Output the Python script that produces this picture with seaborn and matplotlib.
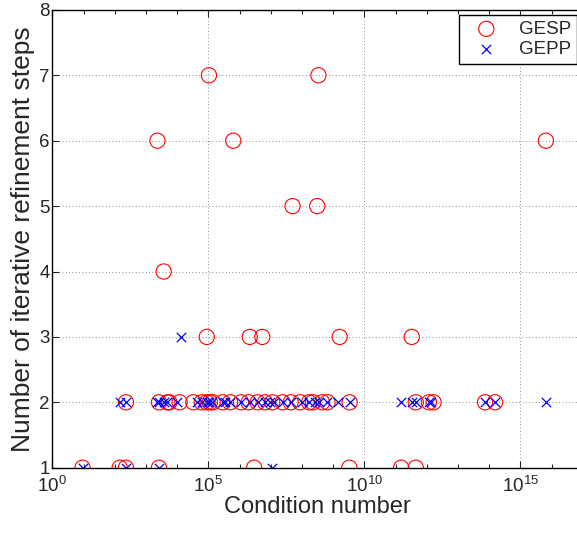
import matplotlib
matplotlib.use('Agg')
import matplotlib.pyplot as plt
import matplotlib.ticker as mticker
import numpy as np
import pandas as pd
import seaborn as sns

# ─── data (condition numbers as log10 exponents) ───
GESP_STEPS = [1] * 8 + [2] * 30 + [3] * 5 + [4] + [5] * 2 + [6] * 3 + [7] * 2
GESP_EXP = [
    # steps = 1
    0.97, 2.16, 2.36, 3.42, 6.47, 9.52, 11.18, 11.65,
    # steps = 2
    2.36, 3.42, 3.69, 3.75, 4.08, 4.52, 4.79, 4.95, 5.05, 5.14,
    5.46, 5.70, 6.05, 6.29, 6.58, 6.82, 7.05, 7.38, 7.64, 7.94,
    8.23, 8.35, 8.65, 8.82, 9.53, 11.65, 12.07, 12.22, 13.87, 14.19,
    # steps = 3
    4.95, 6.33, 6.73, 9.21, 11.52,
    # steps = 4
    3.57,
    # steps = 5
    7.70, 8.49,
    # steps = 6
    3.37, 5.80, 15.82,
    # steps = 7
    5.02, 8.53,
]
GEPP_STEPS = [1] * 4 + [2] * 38 + [3]
GEPP_EXP = [
    # steps = 1
    0.97, 2.36, 3.42, 7.03,
    # steps = 2
    2.16, 2.36, 3.34, 3.42, 3.57, 3.69, 3.99, 4.64, 4.79, 4.95,
    5.02, 5.11, 5.46, 5.54, 5.70, 6.05, 6.35, 6.58, 6.82, 6.99,
    7.11, 7.41, 7.64, 8.00, 8.23, 8.41, 8.56, 8.82, 9.17, 9.53,
    11.18, 11.54, 11.65, 12.07, 12.13, 13.87, 14.19, 15.82,
    # steps = 3
    4.13,
]

gesp = pd.DataFrame({'cond': 10.0 ** np.array(GESP_EXP), 'steps': GESP_STEPS})
gepp = pd.DataFrame({'cond': 10.0 ** np.array(GEPP_EXP), 'steps': GEPP_STEPS})

# ─── style ───
sns.set_style('ticks')
plt.rcParams['font.family'] = ['Liberation Sans', 'DejaVu Sans']
plt.rcParams['mathtext.fontset'] = 'custom'
plt.rcParams['mathtext.rm'] = 'Liberation Sans'

fig = plt.figure(figsize=(5.77, 5.33), dpi=100)
# axes runs slightly past the right border, like the cropped original
ax = fig.add_axes([52.3 / 577, 65.3 / 533, 530.4 / 577, 457.8 / 533])

sns.scatterplot(data=gesp, x='cond', y='steps', ax=ax, marker='o', s=120,
                facecolor='none', edgecolor='red', linewidth=0.8, label='GESP')
sns.scatterplot(data=gepp, x='cond', y='steps', ax=ax, marker='x', s=45,
                color='blue', linewidth=0.9, label='GEPP')

ax.set_xscale('log')
ax.set_xlim(1, 1e17)
ax.set_ylim(1, 8)
ax.set_yticks(range(1, 9))
ax.xaxis.set_major_locator(mticker.FixedLocator([1e0, 1e5, 1e10, 1e15]))
ax.xaxis.set_minor_locator(mticker.FixedLocator([10.0 ** k for k in range(18)]))
ax.xaxis.set_minor_formatter(mticker.NullFormatter())

ax.grid(True, which='major', color='black', linestyle=(0, (1, 3)), linewidth=0.6, alpha=0.6)
ax.tick_params(which='both', direction='in', top=True, right=False, labelsize=13.5, width=0.8)
ax.tick_params(which='major', length=5)
ax.tick_params(which='minor', length=3)
ax.tick_params(axis='y', pad=2)
ax.tick_params(axis='x', pad=6)
for sp in ax.spines.values():
    sp.set_linewidth(1.0)
    sp.set_color('black')
ax.spines['right'].set_visible(False)

ax.set_xlabel('Condition number', fontsize=17, labelpad=0)
ax.set_ylabel('Number of iterative refinement steps', fontsize=19, labelpad=3)

leg = ax.legend(loc='upper right', bbox_to_anchor=(577 / 577, (533 - 15) / 533),
                bbox_transform=fig.transFigure, borderaxespad=0,
                fontsize=13.5, frameon=True, fancybox=False, framealpha=1,
                edgecolor='black', handlelength=2.3, handletextpad=0.6,
                borderpad=0.3, labelspacing=0.16)
leg.get_frame().set_linewidth(1.0)

fig.savefig('out.png', dpi=100, facecolor='white')
